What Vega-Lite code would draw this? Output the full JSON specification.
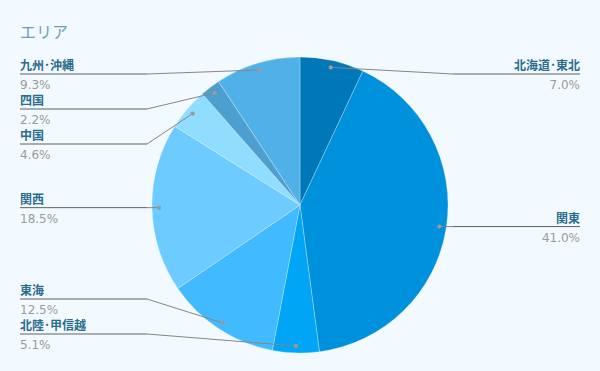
{
  "$schema": "https://vega.github.io/schema/vega-lite/v6.json",
  "width": 600,
  "height": 332,
  "autosize": {"type": "none"},
  "padding": {"left": 0, "right": 0, "top": 39, "bottom": 0},
  "background": "#f3faff",
  "title": {
    "text": "エリア",
    "anchor": "start",
    "frame": "group",
    "orient": "top",
    "offset": 0,
    "dx": 20,
    "dy": 15,
    "baseline": "alphabetic",
    "font": "Noto Sans CJK JP",
    "fontSize": 16,
    "fontWeight": "normal",
    "color": "#6a9fb7"
  },
  "config": {"view": {"stroke": null}},
  "data": {
    "values": [
      {"area": "北海道･東北", "value": 7.0},
      {"area": "関東", "value": 41.0},
      {"area": "北陸･甲信越", "value": 5.1},
      {"area": "東海", "value": 12.5},
      {"area": "関西", "value": 18.5},
      {"area": "中国", "value": 4.6},
      {"area": "四国", "value": 2.2},
      {"area": "九州･沖縄", "value": 9.3}
    ]
  },
  "transform": [
    {"window": [{"op": "row_number", "as": "rn"}]},
    {"joinaggregate": [{"op": "sum", "field": "value", "as": "total"}]},
    {"window": [{"op": "sum", "field": "value", "as": "cum"}], "sort": [{"field": "rn"}], "frame": [null, 0]},
    {"calculate": "(datum.cum - datum.value / 2) / datum.total * 2 * PI", "as": "mid"},
    {"calculate": "141 * sin(datum.mid)", "as": "px"},
    {"calculate": "-141 * cos(datum.mid)", "as": "py"},
    {"calculate": "sin(datum.mid) >= 0 ? 'right' : 'left'", "as": "side"},
    {"calculate": "-141 * cos(datum.mid)", "as": "ny"},
    {"window": [{"op": "row_number", "as": "rt"}], "sort": [{"field": "ny"}], "groupby": ["side"]},
    {"joinaggregate": [{"op": "count", "as": "n"}], "groupby": ["side"]},
    {"calculate": "min(max(datum.ny, -131 + 35 * (datum.rt - 1)), 129 - 35 * (datum.n - datum.rt))", "as": "ly"},
    {"calculate": "datum.side == 'left' ? -153 : 153", "as": "ex"},
    {"calculate": "datum.side == 'left' ? -280 : 280", "as": "tx"},
    {"calculate": "format(datum.value, '.1f') + '%'", "as": "pct"}
  ],
  "layer": [
    {
      "mark": {"type": "arc", "outerRadius": 148, "stroke": "#ffffff", "strokeWidth": 0.6, "strokeOpacity": 0.45},
      "encoding": {
        "theta": {"field": "value", "type": "quantitative", "stack": true},
        "order": {"field": "rn", "type": "quantitative"},
        "color": {
          "field": "area",
          "type": "nominal",
          "legend": null,
          "scale": {
            "domain": ["北海道･東北", "関東", "北陸･甲信越", "東海", "関西", "中国", "四国", "九州･沖縄"],
            "range": ["#0077b6", "#0091dc", "#00a6f5", "#42baff", "#6ecbff", "#90ddff", "#4d9fcf", "#50b1e8"]
          }
        }
      }
    },
    {
      "mark": {"type": "rule", "color": "#858585", "strokeWidth": 1},
      "encoding": {
        "x": {"field": "px", "type": "quantitative", "scale": {"domain": [-300, 300], "nice": false, "zero": false}, "axis": null},
        "y": {"field": "py", "type": "quantitative", "scale": {"domain": [-166, 166], "nice": false, "zero": false, "reverse": true}, "axis": null},
        "x2": {"field": "ex"},
        "y2": {"field": "ly"}
      }
    },
    {
      "mark": {"type": "rule", "color": "#606060", "strokeWidth": 1},
      "encoding": {
        "x": {"field": "ex", "type": "quantitative"},
        "x2": {"field": "tx"},
        "y": {"field": "ly", "type": "quantitative"}
      }
    },
    {
      "mark": {"type": "circle", "size": 18, "color": "#9a9a9a", "opacity": 1},
      "encoding": {
        "x": {"field": "px", "type": "quantitative"},
        "y": {"field": "py", "type": "quantitative"}
      }
    },
    {
      "transform": [{"filter": "datum.side == 'left'"}],
      "mark": {"type": "text", "align": "left", "baseline": "alphabetic", "dy": -4, "font": "Noto Sans CJK JP", "fontSize": 12, "fontWeight": "bold", "color": "#2a6d8c"},
      "encoding": {
        "x": {"field": "tx", "type": "quantitative"},
        "y": {"field": "ly", "type": "quantitative"},
        "text": {"field": "area"}
      }
    },
    {
      "transform": [{"filter": "datum.side == 'right'"}],
      "mark": {"type": "text", "align": "right", "baseline": "alphabetic", "dy": -4, "font": "Noto Sans CJK JP", "fontSize": 12, "fontWeight": "bold", "color": "#2a6d8c"},
      "encoding": {
        "x": {"field": "tx", "type": "quantitative"},
        "y": {"field": "ly", "type": "quantitative"},
        "text": {"field": "area"}
      }
    },
    {
      "transform": [{"filter": "datum.side == 'left'"}],
      "mark": {"type": "text", "align": "left", "baseline": "alphabetic", "dy": 15, "font": "DejaVu Sans", "fontSize": 12, "color": "#9a9a9a"},
      "encoding": {
        "x": {"field": "tx", "type": "quantitative"},
        "y": {"field": "ly", "type": "quantitative"},
        "text": {"field": "pct"}
      }
    },
    {
      "transform": [{"filter": "datum.side == 'right'"}],
      "mark": {"type": "text", "align": "right", "baseline": "alphabetic", "dy": 15, "font": "DejaVu Sans", "fontSize": 12, "color": "#9a9a9a"},
      "encoding": {
        "x": {"field": "tx", "type": "quantitative"},
        "y": {"field": "ly", "type": "quantitative"},
        "text": {"field": "pct"}
      }
    }
  ]
}
